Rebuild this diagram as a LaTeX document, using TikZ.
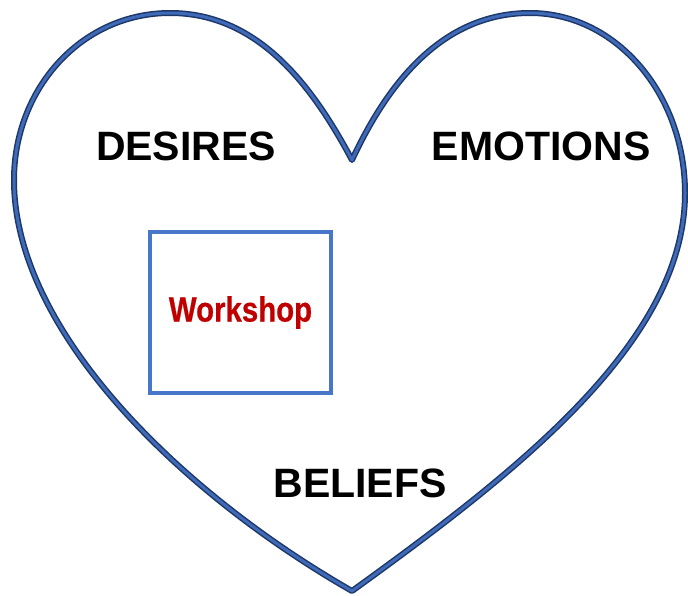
\documentclass[tikz,border=0pt]{standalone}
\usepackage{fontspec}
\setmainfont{Liberation Sans}
\newfontfamily\narrowfont[FakeStretch=0.84,FakeBold=0.6]{Liberation Sans}
\usetikzlibrary{calc}

\definecolor{heartdark}{RGB}{30,55,104}
\definecolor{heartblue}{RGB}{62,106,184}
\definecolor{boxblue}{RGB}{72,118,200}
\definecolor{workred}{RGB}{192,0,0}

\begin{document}
\begin{tikzpicture}[x=1pt,y=-1pt,
    label/.style={anchor=base, font=\fontsize{41}{41}\selectfont\bfseries},
    workbox/.style={draw=boxblue, line width=3.6pt, minimum width=181, minimum height=161,
        text=workred, font=\narrowfont\fontsize{35}{35}\selectfont\bfseries}]
            \useasboundingbox (0,0) rectangle (688,595);

            % heart outline points
            \coordinate (cusp) at (352,160);
            \coordinate (ltop) at (170,13);
            \coordinate (lside) at (14,180);
            \coordinate (tip) at (352,591);
            \coordinate (rside) at (685,193);
            \coordinate (rtop) at (530,13);

            \foreach \c/\w in {heartdark/6pt, heartblue/3pt}
                {
                    \draw [\c, line width=\w, line join=round]
                        (cusp) .. controls (314,89) and (260,13) .. (ltop)
                        .. controls (82,13) and (14,88) .. (lside)
                        .. controls (14,330) and (179,492) .. (tip)
                        .. controls (514,474) and (685,343) .. (rside)
                        .. controls (685,94) and (616,13) .. (rtop)
                        .. controls (440,13) and (386,87) .. (cusp) -- cycle;
                }

            \foreach \name/\x/\y/\txt in {desires/186/160/DESIRES, emotions/541/160/EMOTIONS, beliefs/360/497/BELIEFS}
                {
                    \node (\name) at (\x,\y) [label] {\txt};
                }

            \node (workshop) at (240.5,312.5) [workbox] {Workshop};

        \end{tikzpicture}
\end{document}
